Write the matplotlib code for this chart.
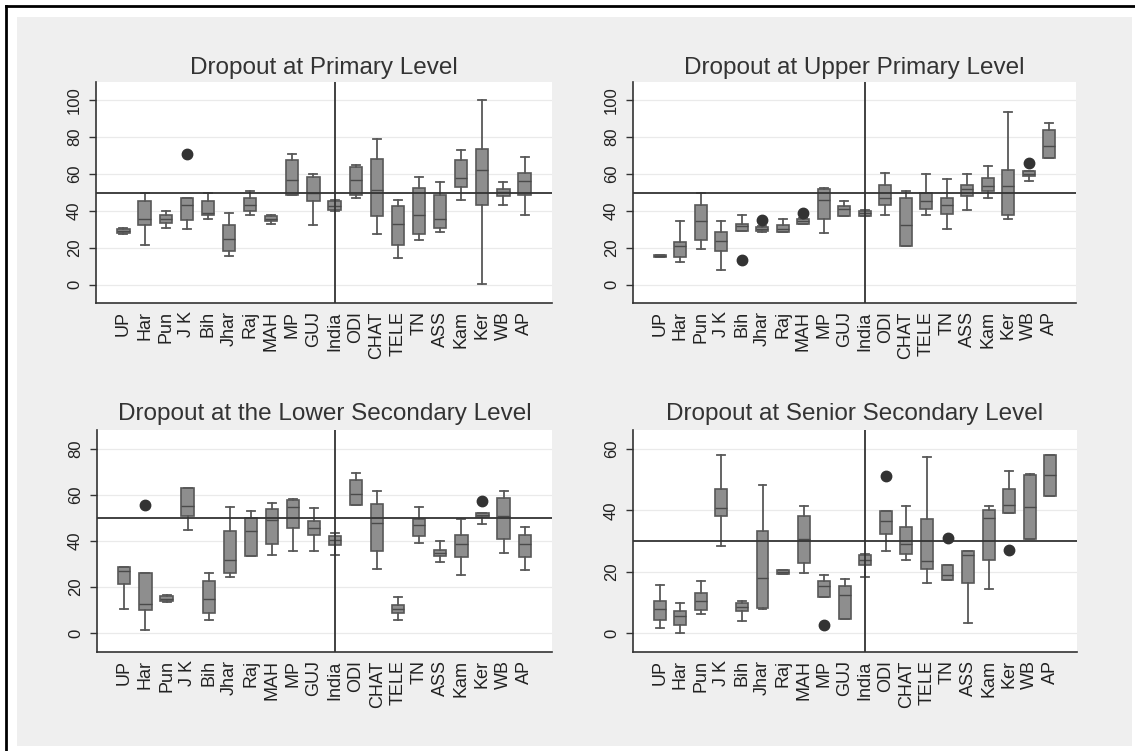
import numpy as np
import matplotlib.pyplot as plt
from matplotlib.lines import Line2D
from matplotlib.patches import Rectangle

# ===============================
# Data
# ===============================
states = ["UP", "Har", "Pun", "J K", "Bih", "Jhar", "Raj", "MAH", "MP", "GUJ",
          "India", "ODI", "CHAT", "TELE", "TN", "ASS", "Kam", "Ker", "WB", "AP"]

# primary level
prim_lo = [27.5, 21.7, 30.7, 30.2, 35.8, 15.7, 38.0, 33.1, 48.8, 32.5,
           40.1, 47.0, 27.7, 14.5, 24.0, 28.6, 45.8, 0.4, 43.4, 38.0]
prim_q1 = [28.0, 32.5, 33.5, 35.3, 37.6, 18.1, 39.8, 34.4, 48.8, 45.2,
           40.7, 48.8, 37.1, 21.7, 27.7, 30.7, 53.0, 43.0, 48.3, 48.8]
prim_med = [29.0, 35.6, 35.8, 43.4, 38.9, 25.0, 43.4, 35.8, 57.0, 49.7,
            42.5, 57.0, 51.5, 32.9, 38.0, 35.8, 57.9, 62.0, 50.3, 56.0]
prim_q3 = [30.0, 45.6, 38.0, 47.0, 45.2, 32.2, 47.0, 37.4, 67.5, 58.2,
           45.2, 63.7, 68.2, 42.5, 52.4, 48.8, 67.5, 73.6, 52.0, 60.6]
prim_hi = [30.5, 49.7, 39.8, 47.0, 49.7, 38.9, 51.0, 38.0, 71.0, 60.0,
           45.8, 64.7, 79.2, 46.1, 58.4, 55.9, 72.9, 100.0, 55.9, 69.3]
prim_out = [[], [], [], [70.9], [], [], [], [], [], [],
            [], [], [], [], [], [], [], [], [], []]

# upper primary level
upri_lo = [15.0, 12.1, 19.3, 8.1, 28.9, 28.5, 28.4, 33.1, 28.0, 37.1,
           37.0, 37.6, 20.8, 37.6, 30.2, 40.3, 47.0, 35.6, 56.0, 68.7]
upri_q1 = [15.0, 15.0, 24.4, 18.1, 28.9, 28.9, 28.4, 33.1, 35.6, 37.1,
           37.4, 43.4, 20.8, 41.0, 38.5, 48.3, 50.6, 38.0, 58.8, 68.7]
upri_med = [15.5, 20.8, 34.4, 23.5, 31.6, 30.2, 30.2, 34.4, 45.8, 41.0,
            38.9, 47.0, 32.5, 45.2, 43.4, 51.9, 53.7, 53.3, 60.0, 75.4]
upri_q3 = [16.0, 23.0, 43.4, 28.4, 33.1, 31.3, 32.5, 35.8, 51.9, 42.5,
           39.8, 54.2, 47.0, 49.7, 47.0, 54.2, 57.9, 62.4, 61.5, 84.1]
upri_hi = [16.0, 34.4, 49.7, 34.4, 38.0, 31.8, 35.8, 36.2, 52.4, 45.6,
           40.3, 60.6, 50.6, 60.2, 57.3, 60.2, 64.2, 93.5, 61.5, 88.0]
upri_out = [[], [], [], [], [13.2], [35.3], [], [38.9], [], [],
            [], [], [], [], [], [], [], [], [66.0], []]

# lower secondary level
lsec_lo = [10.4, 1.2, 13.4, 44.6, 5.8, 24.3, 33.3, 34.1, 35.5, 35.5,
           34.1, 55.8, 27.8, 5.5, 39.1, 30.7, 25.4, 47.5, 34.8, 27.5]
lsec_q1 = [21.4, 10.1, 13.8, 50.7, 8.7, 26.1, 33.3, 38.8, 45.7, 42.8,
           38.4, 55.8, 35.5, 8.7, 42.0, 33.3, 33.0, 50.4, 40.9, 33.0]
lsec_med = [26.8, 12.6, 14.9, 55.4, 14.9, 31.9, 44.5, 49.0, 54.8, 45.7,
            40.3, 60.6, 47.8, 10.6, 47.1, 34.8, 38.8, 51.4, 51.0, 38.8]
lsec_q3 = [28.6, 26.1, 16.2, 63.0, 22.5, 44.5, 50.0, 54.0, 58.0, 48.6,
           42.3, 66.7, 56.2, 12.3, 49.6, 35.9, 42.8, 52.2, 58.7, 42.8]
lsec_hi = [28.6, 26.1, 16.6, 63.0, 26.1, 54.8, 52.9, 56.4, 58.3, 54.3,
           43.5, 69.6, 61.9, 15.7, 54.8, 39.9, 49.6, 52.2, 61.9, 46.1]
lsec_out = [[], [55.8], [], [], [], [], [], [], [], [],
            [], [], [], [], [], [], [], [57.5], [], []]

# senior secondary level
ssec_lo = [1.6, 0.0, 6.3, 28.3, 3.8, 7.8, 19.3, 19.6, 11.7, 4.6,
           18.3, 26.6, 23.9, 16.3, 17.4, 3.3, 14.5, 39.1, 30.7, 44.6]
ssec_q1 = [4.1, 2.7, 7.4, 38.0, 7.1, 8.2, 19.3, 22.8, 11.7, 4.6,
           22.3, 32.4, 25.9, 20.9, 17.4, 16.3, 23.9, 39.1, 30.7, 44.6]
ssec_med = [7.8, 5.4, 10.3, 40.8, 8.5, 17.9, 19.8, 30.7, 15.4, 12.5,
            23.7, 36.4, 29.1, 23.4, 18.8, 25.5, 37.5, 41.8, 41.1, 51.6]
ssec_q3 = [10.3, 7.3, 13.0, 47.0, 9.8, 33.4, 20.4, 38.3, 16.8, 15.4,
           25.3, 39.7, 34.6, 37.3, 22.3, 26.6, 40.2, 47.0, 51.6, 58.2]
ssec_hi = [15.5, 9.8, 17.1, 58.2, 10.5, 48.4, 20.4, 41.5, 18.8, 17.6,
           25.9, 39.7, 41.5, 57.4, 22.3, 26.6, 41.5, 52.9, 52.0, 58.2]
ssec_out = [[], [], [], [], [], [], [], [], [2.7], [],
            [], [51.1], [], [], [31.0], [], [], [27.2], [], []]

# ===============================
# Styles
# ===============================
BG = "#efefef"
BOX_FILL = "#8e8e8e"
EDGE = "#585858"
DARK = "#333333"

plt.rcParams["font.family"] = ["Liberation Sans", "DejaVu Sans"]


def make_stats(lo, q1, med, q3, hi, out):
    stats = []
    for i in range(len(lo)):
        stats.append({
            "whislo": lo[i], "q1": q1[i], "med": med[i],
            "q3": q3[i], "whishi": hi[i], "fliers": out[i],
        })
    return stats


def draw_panel(ax, stats, ylim, yticks, ref):
    ax.set_facecolor("white")
    for t in yticks:
        ax.axhline(t, color="#eaeaea", lw=0.9, zorder=0)

    ax.bxp(
        stats,
        positions=np.arange(len(states)),
        widths=0.58,
        capwidths=0.38,
        patch_artist=True,
        boxprops=dict(facecolor=BOX_FILL, edgecolor=EDGE, lw=1.2),
        medianprops=dict(color="#4a4a4a", lw=1.0),
        whiskerprops=dict(color=EDGE, lw=1.3),
        capprops=dict(color=EDGE, lw=1.3),
        flierprops=dict(marker="o", markersize=7.5, markerfacecolor=DARK,
                        markeredgecolor=DARK),
        zorder=3,
    )

    ax.axhline(ref, color=DARK, lw=1.3, zorder=4)
    ax.axvline(states.index("India"), color=DARK, lw=1.3, zorder=4)

    ax.set_xlim(-1.3, len(states) - 1 + 1.3)
    ax.set_ylim(*ylim)
    ax.set_yticks(yticks)
    ax.set_xticks(np.arange(len(states)))
    ax.set_xticklabels(states, rotation=90, fontsize=13, color="#222222")
    ax.tick_params(axis="x", length=0, pad=6)
    ax.tick_params(axis="y", length=5, width=1.0, color=DARK, pad=5,
                   labelsize=12, labelcolor="#222222")
    for lab in ax.get_yticklabels():
        lab.set_rotation(90)
        lab.set_va("center")

    for side in ["top", "right"]:
        ax.spines[side].set_visible(False)
    for side in ["left", "bottom"]:
        ax.spines[side].set_color(DARK)
        ax.spines[side].set_linewidth(1.2)


# ===============================
# Figure
# ===============================
W, H = 1135, 751
fig = plt.figure(figsize=(W / 100, H / 100), dpi=100)
fig.patch.set_facecolor("white")

# grey graph region and outer frame
fig.patches.append(Rectangle((17 / W, 1 - 746 / H), (1132 - 17) / W, (746 - 17) / H,
                             transform=fig.transFigure, facecolor=BG,
                             edgecolor="none", zorder=-10))
fig.lines.append(Line2D([6 / W, 6 / W], [0, 1 - 6 / H], transform=fig.transFigure,
                        color="black", lw=2))
fig.lines.append(Line2D([6 / W, 1], [1 - 6 / H, 1 - 6 / H], transform=fig.transFigure,
                        color="black", lw=2))

panels = [
    ("Dropout at Primary Level", (96, 82, 552, 303),
     make_stats(prim_lo, prim_q1, prim_med, prim_q3, prim_hi, prim_out),
     (-10, 110), [0, 20, 40, 60, 80, 100], 50, 68),
    ("Dropout at Upper Primary Level", (633, 82, 1076, 303),
     make_stats(upri_lo, upri_q1, upri_med, upri_q3, upri_hi, upri_out),
     (-10, 110), [0, 20, 40, 60, 80, 100], 50, 68),
    ("Dropout at the Lower Secondary Level", (97, 430, 552, 652),
     make_stats(lsec_lo, lsec_q1, lsec_med, lsec_q3, lsec_hi, lsec_out),
     (-8.3, 88.3), [0, 20, 40, 60, 80], 50, 414),
    ("Dropout at Senior Secondary Level", (633, 430, 1077, 652),
     make_stats(ssec_lo, ssec_q1, ssec_med, ssec_q3, ssec_hi, ssec_out),
     (-6.2, 66.2), [0, 20, 40, 60], 30, 414),
]

for title, (x0, y0, x1, y1), stats, ylim, yticks, ref, ty in panels:
    ax = fig.add_axes([x0 / W, 1 - y1 / H, (x1 - x0) / W, (y1 - y0) / H])
    draw_panel(ax, stats, ylim, yticks, ref)
    fig.text((x0 + x1) / 2 / W, 1 - ty / H, title, ha="center", va="center",
             fontsize=17.5, color="#333333")

fig.savefig("out.png", dpi=100, facecolor=fig.get_facecolor())
